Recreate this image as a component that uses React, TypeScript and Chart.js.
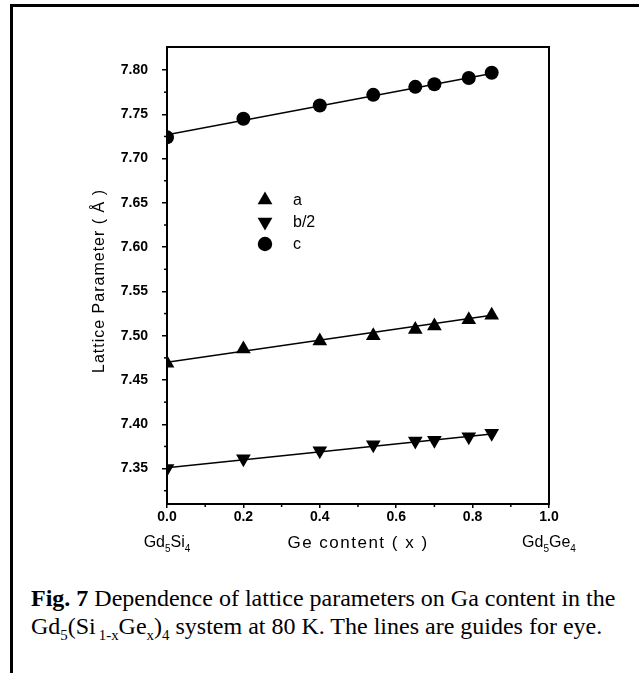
import React, { useEffect, useRef } from "react";
import { Chart, registerables } from "chart.js";

Chart.register(...registerables);

// ---- data ----
const geContent = [0, 0.2, 0.4, 0.54, 0.65, 0.7, 0.79, 0.85];
const paramA = [7.469, 7.485, 7.494, 7.5, 7.507, 7.511, 7.518, 7.523];
const paramBHalf = [7.35, 7.361, 7.37, 7.377, 7.381, 7.382, 7.386, 7.39];
const paramC = [7.724, 7.745, 7.76, 7.772, 7.781, 7.784, 7.791, 7.797];

// guide lines (straight fits) : start / end
const fitX = [0, 0.85];
const fitA = [7.47, 7.523];
const fitBHalf = [7.351, 7.389];
const fitC = [7.727, 7.796];

const yTickValues = [7.35, 7.4, 7.45, 7.5, 7.55, 7.6, 7.65, 7.7, 7.75, 7.8];
const yMinorValues = [7.325, 7.375, 7.425, 7.475, 7.525, 7.575, 7.625, 7.675, 7.725, 7.775];
const xTickValues = [0, 0.2, 0.4, 0.6, 0.8, 1.0];
const xMinorValues = [0.1, 0.3, 0.5, 0.7, 0.9];
const seriesNames = ["a", "b/2", "c"];
const xAxisTitle = "Ge content ( x )";
const yAxisTitle = "Lattice Parameter ( Å )";
const caption1Bold = "Fig. 7";
const caption1Rest = " Dependence of lattice parameters on Ga content in the";

const FONT = "'Liberation Sans', Arial, sans-serif";

function toPts(xs: number[], ys: number[]) {
  return xs.map((x, i) => ({ x, y: ys[i] }));
}

function drawMarker(ctx: CanvasRenderingContext2D, kind: string, x: number, y: number, r: number) {
  ctx.beginPath();
  if (kind === "circle") {
    ctx.arc(x, y, r * 0.85, 0, Math.PI * 2);
  } else if (kind === "up") {
    ctx.moveTo(x, y - r);
    ctx.lineTo(x + r * 0.87, y + r * 0.5);
    ctx.lineTo(x - r * 0.87, y + r * 0.5);
    ctx.closePath();
  } else {
    ctx.moveTo(x, y + r);
    ctx.lineTo(x + r * 0.87, y - r * 0.5);
    ctx.lineTo(x - r * 0.87, y - r * 0.5);
    ctx.closePath();
  }
  ctx.fill();
}

function drawSubText(
  ctx: CanvasRenderingContext2D,
  parts: { t: string; sub?: boolean }[],
  cx: number,
  y: number,
  size: number
) {
  const main = `${size}px ${FONT}`;
  const small = `${Math.round(size * 0.65)}px ${FONT}`;
  let total = 0;
  for (const p of parts) {
    ctx.font = p.sub ? small : main;
    total += ctx.measureText(p.t).width;
  }
  let x = cx - total / 2;
  ctx.textAlign = "left";
  ctx.textBaseline = "middle";
  for (const p of parts) {
    ctx.font = p.sub ? small : main;
    ctx.fillText(p.t, x, p.sub ? y + size * 0.38 : y);
    x += ctx.measureText(p.t).width;
  }
}

const decorPlugin = {
  id: "decor",
  afterDraw(chart: any) {
    const { ctx, chartArea: a, scales } = chart;
    const xs = scales.x;
    const ys = scales.y;
    ctx.save();
    ctx.fillStyle = "#000";
    ctx.strokeStyle = "#000";
    // box
    ctx.lineWidth = 2;
    ctx.strokeRect(a.left, a.top, a.right - a.left, a.bottom - a.top);
    // minor ticks
    ctx.lineWidth = 1.5;
    for (const v of yMinorValues) {
      const py = ys.getPixelForValue(v);
      if (py < a.top || py > a.bottom) continue;
      ctx.beginPath();
      ctx.moveTo(a.left - 3, py);
      ctx.lineTo(a.left, py);
      ctx.stroke();
    }
    for (const v of xMinorValues) {
      const px = xs.getPixelForValue(v);
      ctx.beginPath();
      ctx.moveTo(px, a.bottom);
      ctx.lineTo(px, a.bottom + 3);
      ctx.stroke();
    }
    // legend
    const kinds = ["up", "down", "circle"];
    seriesNames.forEach((name, i) => {
      const my = a.top + 153 + i * 22;
      const mx = a.left + 98;
      drawMarker(ctx, kinds[i], mx, my, 8.5);
      ctx.font = `16px ${FONT}`;
      ctx.textAlign = "left";
      ctx.textBaseline = "middle";
      ctx.fillText(name, mx + 28, my + 1);
    });
    // x axis titles
    const ty = a.bottom + 39;
    drawSubText(ctx, [{ t: "Gd" }, { t: "5", sub: true }, { t: "Si" }, { t: "4", sub: true }], xs.getPixelForValue(0), ty, 16);
    drawSubText(ctx, [{ t: "Gd" }, { t: "5", sub: true }, { t: "Ge" }, { t: "4", sub: true }], xs.getPixelForValue(1.0), ty, 16);
    ctx.font = `17px ${FONT}`;
    (ctx as any).letterSpacing = "1.5px";
    ctx.textAlign = "center";
    ctx.textBaseline = "middle";
    ctx.fillText(xAxisTitle, (a.left + a.right) / 2, ty);
    // y axis title
    (ctx as any).letterSpacing = "1px";
    ctx.translate(a.left - 67, 281);
    ctx.rotate(-Math.PI / 2);
    ctx.font = `16px ${FONT}`;
    ctx.fillText(yAxisTitle, 0, 0);
    (ctx as any).letterSpacing = "0px";
    ctx.restore();
  },
};

function markerDataset(label: string, data: number[], style: string, rotation = 0) {
  return {
    type: "scatter" as const,
    label,
    data: toPts(geContent, data),
    pointStyle: style,
    rotation,
    pointRadius: style === "circle" ? 7 : 8.5,
    backgroundColor: "#000",
    borderColor: "#000",
    borderWidth: 0,
    showLine: false,
  };
}

function fitDataset(label: string, data: number[]) {
  return {
    type: "line" as const,
    label,
    data: toPts(fitX, data),
    borderColor: "#000",
    borderWidth: 1.5,
    pointRadius: 0,
    fill: false,
  };
}

export default function App() {
  const ref = useRef<HTMLCanvasElement | null>(null);

  useEffect(() => {
    if (!ref.current) return;
    const chart = new Chart(ref.current, {
      type: "scatter",
      data: {
        datasets: [
          fitDataset("fit a", fitA),
          fitDataset("fit b/2", fitBHalf),
          fitDataset("fit c", fitC),
          markerDataset(seriesNames[0], paramA, "triangle"),
          markerDataset(seriesNames[1], paramBHalf, "triangle", 180),
          markerDataset(seriesNames[2], paramC, "circle"),
        ] as any,
      },
      options: {
        animation: false,
        responsive: false,
        layout: { padding: { left: 107, top: 47, right: 90, bottom: 36 } },
        plugins: { legend: { display: false }, tooltip: { enabled: false } },
        scales: {
          x: {
            type: "linear",
            min: 0,
            max: 1.0,
            afterFit: (s: any) => {
              s.height = 20;
            },
            afterBuildTicks: (s: any) => {
              s.ticks = xTickValues.map((v) => ({ value: v }));
            },
            ticks: {
              color: "#000",
              font: { family: FONT, size: 14, weight: "bold" },
              padding: 1,
              callback: (v: any) => Number(v).toFixed(1),
            },
            grid: { drawOnChartArea: false, drawTicks: true, tickLength: 4, color: "#000", lineWidth: 1.5 },
            border: { display: true, color: "#000", width: 2 },
          },
          y: {
            type: "linear",
            min: 7.31,
            max: 7.826,
            afterFit: (s: any) => {
              s.width = 60;
            },
            afterBuildTicks: (s: any) => {
              s.ticks = yTickValues.map((v) => ({ value: v }));
            },
            ticks: {
              color: "#000",
              font: { family: FONT, size: 14, weight: "bold" },
              padding: 14,
              callback: (v: any) => Number(v).toFixed(2),
            },
            grid: { drawOnChartArea: false, drawTicks: true, tickLength: 5, color: "#000", lineWidth: 1.5 },
            border: { display: true, color: "#000", width: 2 },
          },
        },
      },
      plugins: [decorPlugin],
    });
    return () => chart.destroy();
  }, []);

  const subStyle = { fontSize: "0.62em" };

  return (
    <div style={{ position: "absolute", left: 0, top: 0, width: 639, height: 673, background: "#fff", overflow: "hidden" }}>
      <div style={{ position: "absolute", left: 10, top: 4, width: 629, height: 3, background: "#000" }} />
      <div style={{ position: "absolute", left: 10, top: 4, width: 3, height: 669, background: "#000" }} />
      <canvas ref={ref} width={639} height={560} style={{ position: "absolute", left: 0, top: 0 }} />
      <div
        style={{
          position: "absolute",
          left: 31,
          top: 584,
          fontFamily: "'Liberation Serif', 'Times New Roman', serif",
          fontSize: 24,
          lineHeight: "28px",
          color: "#000",
          whiteSpace: "nowrap",
        }}
      >
        <div>
          <b>{caption1Bold}</b>
          {caption1Rest}
        </div>
        <div>
          Gd<sub style={subStyle}>5</sub>(Si<sub style={subStyle}>{"\u20091-x"}</sub>Ge
          <sub style={subStyle}>x</sub>)<sub style={subStyle}>4</sub> system at 80 K. The lines are guides for eye.
        </div>
      </div>
    </div>
  );
}
